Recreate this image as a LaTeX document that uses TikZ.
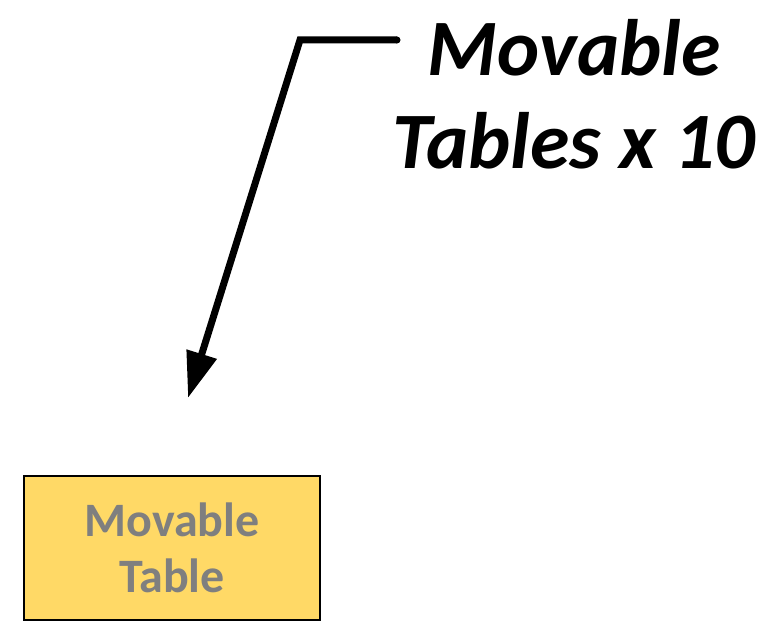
\documentclass[tikz,border=0pt]{standalone}
\usepackage{fontspec}
\setmainfont{Carlito}
\usetikzlibrary{arrows.meta}
\definecolor{tableyellow}{HTML}{FFD966}
\definecolor{tablegray}{HTML}{7F7F7F}
\begin{document}
\begin{tikzpicture}[x=1pt,y=-1pt,
  tablebox/.style={draw=black,line width=2pt,fill=tableyellow,minimum width=296pt,minimum height=144pt,inner sep=0pt,
    text=tablegray,font=\fontsize{48}{56}\selectfont\bfseries,align=center},
  titletext/.style={font=\fontsize{80}{93}\selectfont\bfseries\itshape,align=center,inner sep=0pt},
  pointer/.style={line width=7pt,-{Triangle[length=46pt,width=30pt]},line join=miter}]
\useasboundingbox (0,0) rectangle (774,623);
\node[tablebox] (box) at (172,548) {Movable\\Table};
\node[titletext,anchor=base] (title) at (574,168) {Movable\\Tables x 10};
\coordinate (start) at (397,40);
\coordinate (bend) at (300,40);
\coordinate (tip) at (188,398);
\draw[pointer] (start) -- (bend) -- (tip);
\fill (start) circle (3.5pt);
\end{tikzpicture}
\end{document}
